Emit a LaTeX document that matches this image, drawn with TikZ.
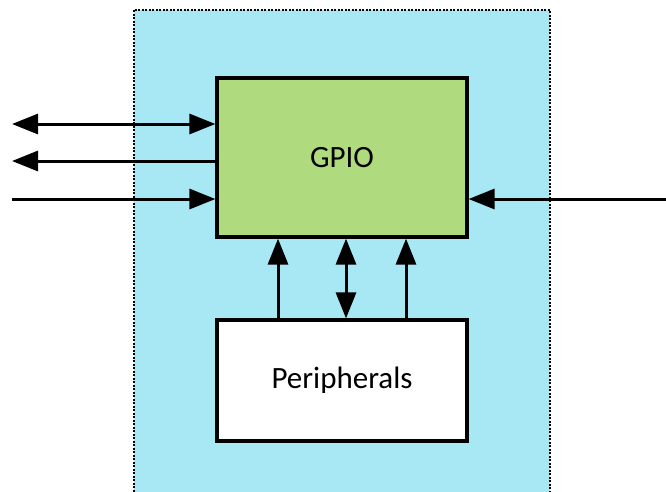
\documentclass[tikz,border=0pt]{standalone}
\usepackage{fontspec}
\setmainfont{Carlito}
\usetikzlibrary{arrows.meta}

\definecolor{socblue}{HTML}{A8E8F4}
\definecolor{gpiogreen}{HTML}{B0DA7E}

\begin{document}
\begin{tikzpicture}[x=1pt, y=-1pt,
    block/.style={draw, line width=3.2pt, minimum width=250pt, font=\fontsize{31}{36}\selectfont},
    sig/.style={line width=3pt, -{Triangle[length=26pt,width=20pt]}},
    bisig/.style={line width=3pt, {Triangle[length=26pt,width=20pt]}-{Triangle[length=26pt,width=20pt]}}]

    \useasboundingbox (0,0) rectangle (666,491);

    % Chip outline
    \draw[fill=socblue, line width=1.6pt, dash pattern=on 2pt off 1.5pt] (134,10) rectangle (550,500);

    % Blocks
    \node[block, fill=gpiogreen, minimum height=159pt] (gpio) at (342,157.5) {GPIO};
    \node[block, fill=white, minimum height=121pt] (perip) at (342,380.5) {Peripherals};

    % Pins on the left
    \coordinate (pinA) at (12,124);
    \coordinate (pinB) at (12,161);
    \coordinate (pinC) at (12,199);
    \draw[bisig] (pinA) -- (pinA -| gpio.west);
    \draw[sig] (pinB -| gpio.west) -- (pinB);
    \draw[sig] (pinC) -- (pinC -| gpio.west);

    % Input from the right
    \coordinate (pinD) at (666,199);
    \draw[sig] (pinD) -- (pinD -| gpio.east);

    % Peripheral links
    \coordinate (busA) at (278,0);
    \coordinate (busB) at (346,0);
    \coordinate (busC) at (406,0);
    \draw[sig] (busA |- perip.north) -- (busA |- gpio.south);
    \draw[bisig] (busB |- perip.north) -- (busB |- gpio.south);
    \draw[sig] (busC |- perip.north) -- (busC |- gpio.south);

\end{tikzpicture}
\end{document}
